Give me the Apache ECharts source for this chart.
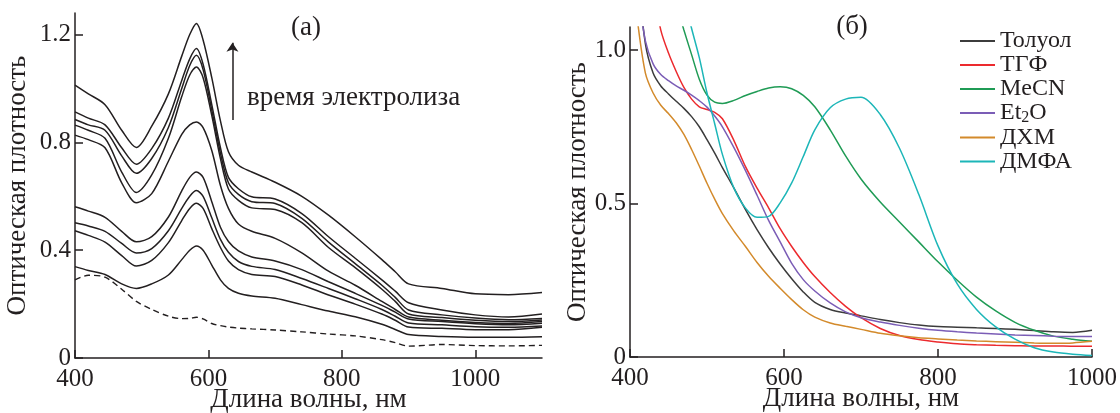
<!DOCTYPE html>
<html>
<head>
<meta charset="utf-8">
<script src="https://cdn.jsdelivr.net/npm/echarts@6.0.0/dist/echarts.min.js"></script>
<style>
html,body{margin:0;padding:0;background:#fff}
#chart{width:1120px;height:413px}
</style>
</head>
<body>
<div id="chart"></div>
<script>
// панель (а): длины волн, нм
const wlA=[400,420,445,470,492,515,540,560,572,582,592,605,618,630,645,665,700,740,780,820,860,880,900,950,1000,1050,1100]
// спектры во время электролиза, снизу вверх
const a1=[0.339,0.325,0.31,0.275,0.258,0.275,0.308,0.365,0.40,0.416,0.40,0.345,0.29,0.258,0.24,0.23,0.222,0.198,0.174,0.153,0.125,0.106,0.087,0.08,0.077,0.077,0.079]
const a2=[0.472,0.455,0.43,0.38,0.341,0.362,0.428,0.51,0.555,0.574,0.555,0.48,0.41,0.36,0.328,0.31,0.302,0.271,0.234,0.20,0.163,0.14,0.115,0.11,0.105,0.105,0.114]
const a3=[0.502,0.49,0.47,0.425,0.39,0.406,0.472,0.555,0.60,0.621,0.60,0.52,0.44,0.392,0.358,0.34,0.328,0.295,0.258,0.22,0.18,0.155,0.13,0.123,0.116,0.114,0.119]
const a4=[0.561,0.545,0.522,0.47,0.431,0.45,0.523,0.62,0.67,0.69,0.67,0.58,0.485,0.432,0.397,0.375,0.36,0.328,0.283,0.24,0.195,0.17,0.145,0.135,0.127,0.123,0.129]
const a5=[0.827,0.81,0.78,0.65,0.576,0.61,0.73,0.83,0.865,0.876,0.855,0.77,0.64,0.555,0.497,0.47,0.444,0.39,0.322,0.27,0.21,0.18,0.152,0.14,0.132,0.128,0.135]
const a6=[0.864,0.845,0.815,0.69,0.614,0.679,0.815,0.97,1.05,1.08,1.04,0.90,0.74,0.627,0.585,0.557,0.551,0.502,0.41,0.335,0.255,0.21,0.163,0.15,0.14,0.135,0.141]
const a7=[0.885,0.865,0.845,0.75,0.685,0.74,0.855,1.0,1.085,1.123,1.07,0.92,0.76,0.65,0.607,0.58,0.573,0.518,0.43,0.35,0.27,0.225,0.178,0.16,0.148,0.142,0.147]
const a8=[0.913,0.89,0.865,0.78,0.719,0.777,0.89,1.03,1.11,1.148,1.09,0.94,0.78,0.67,0.628,0.598,0.59,0.536,0.45,0.37,0.29,0.248,0.205,0.178,0.16,0.152,0.163]
const a9=[1.012,0.98,0.94,0.845,0.781,0.86,0.98,1.12,1.20,1.241,1.18,1.04,0.88,0.765,0.715,0.69,0.652,0.60,0.53,0.45,0.365,0.32,0.275,0.258,0.238,0.235,0.243]
// исходный спектр (штрих)
const a0=[0.29,0.307,0.30,0.255,0.21,0.18,0.155,0.146,0.147,0.151,0.145,0.128,0.12,0.115,0.111,0.108,0.104,0.097,0.089,0.082,0.068,0.057,0.044,0.05,0.046,0.045,0.047]

// панель (б)
const wlB=[400,410,420,430,440,450,460,470,480,490,500,510,520,535,550,565,580,595,610,625,640,660,680,700,725,750,775,800,825,850,875,900,925,950,975,1000]
const toluene=[null,1.25,1.02,0.925,0.883,0.857,0.833,0.81,0.783,0.75,0.708,0.664,0.617,0.55,0.48,0.415,0.356,0.303,0.255,0.212,0.178,0.155,0.143,0.134,0.122,0.112,0.104,0.099,0.097,0.095,0.093,0.09,0.086,0.082,0.08,0.087]
const thf=[null,null,null,1.2,1.065,0.99,0.93,0.878,0.84,0.815,0.806,0.797,0.776,0.705,0.62,0.55,0.486,0.418,0.36,0.308,0.262,0.21,0.165,0.128,0.093,0.07,0.057,0.049,0.043,0.04,0.038,0.037,0.036,0.036,0.035,0.035]
const mecn=[null,null,null,null,null,null,1.15,1.065,0.985,0.905,0.853,0.83,0.826,0.836,0.852,0.865,0.876,0.88,0.874,0.852,0.815,0.74,0.655,0.58,0.505,0.44,0.375,0.31,0.25,0.195,0.15,0.113,0.087,0.068,0.058,0.051]
const et2o=[null,1.2,1.03,0.955,0.92,0.9,0.883,0.869,0.853,0.835,0.814,0.785,0.75,0.682,0.607,0.527,0.445,0.375,0.305,0.252,0.215,0.176,0.147,0.128,0.114,0.103,0.094,0.087,0.082,0.078,0.075,0.072,0.07,0.068,0.067,0.067]
const dcm=[null,1.09,0.925,0.86,0.82,0.793,0.763,0.725,0.676,0.622,0.566,0.514,0.467,0.41,0.36,0.308,0.263,0.224,0.187,0.154,0.13,0.111,0.1,0.09,0.077,0.069,0.063,0.059,0.055,0.052,0.05,0.048,0.046,0.045,0.046,0.051]
const dmfa=[null,null,null,null,null,null,null,1.17,1.07,0.975,0.86,0.76,0.66,0.55,0.485,0.455,0.458,0.502,0.567,0.653,0.74,0.812,0.84,0.846,0.79,0.68,0.53,0.362,0.238,0.155,0.098,0.058,0.03,0.016,0.009,0.005]

const solventNames=['Толуол','ТГФ','MeCN','Et2O','ДХМ','ДМФА']
const solventColors=['#3c3c3c','#ec2a2e','#1f9b55','#7b5db6','#d38a2b','#1cb6b8']
const solventData=[toluene,thf,mecn,et2o,dcm,dmfa]

const ink='#231f20'
const serif="'Liberation Serif', 'DejaVu Serif', serif"

function pairs(xs,ys){return xs.map((x,i)=>[x,ys[i]])}

function axisX(idx,min,max,ticks){
    return {
        type:'value',gridIndex:idx,min:min,max:max,
        name:'Длина волны, нм',nameLocation:'middle',nameGap:28,nameMoveOverlap:false,
        nameTextStyle:{fontFamily:serif,fontSize:27,color:ink},
        axisLine:{lineStyle:{color:ink,width:1.5}},
        axisTick:{inside:true,length:8,lineStyle:{color:ink,width:1.5},customValues:ticks},
        axisLabel:{fontFamily:serif,fontSize:25,color:ink,margin:9,customValues:ticks,
            formatter:v=>String(v)},
        splitLine:{show:false}
    }
}
function axisY(idx,max,ticks,gap){
    return {
        type:'value',gridIndex:idx,min:0,max:max,
        name:'Оптическая плотность',nameLocation:'middle',nameRotate:90,nameGap:gap,nameMoveOverlap:false,
        nameTextStyle:{fontFamily:serif,fontSize:27,color:ink},
        axisLine:{show:true,lineStyle:{color:ink,width:1.5}},
        axisTick:{show:true,inside:true,length:8,lineStyle:{color:ink,width:1.5},customValues:ticks},
        axisLabel:{fontFamily:serif,fontSize:25,color:ink,margin:4,customValues:ticks,
            formatter:v=>v===0?'0':v.toFixed(1)},
        splitLine:{show:false}
    }
}

let series=[]
const aCurves=[a1,a2,a3,a4,a5,a6,a7,a8,a9]
aCurves.forEach((c,i)=>{
    series.push({
        name:'a'+(i+1),type:'line',xAxisIndex:0,yAxisIndex:0,
        data:pairs(wlA,c),smooth:0.3,symbol:'none',
        lineStyle:{color:ink,width:1.5}
    })
})
series.push({
    name:'a0',type:'line',xAxisIndex:0,yAxisIndex:0,
    data:pairs(wlA,a0),smooth:0.3,symbol:'none',
    lineStyle:{color:ink,width:1.4,type:[6,4]},
    // стрелка "время электролиза"
    markLine:{
        silent:true,symbol:['none','arrow'],symbolSize:9,
        label:{show:false},
        lineStyle:{color:ink,width:1.5,type:'solid'},
        data:[[{coord:[636,0.883]},{coord:[636,1.17]}]]
    }
})
solventData.forEach((d,i)=>{
    series.push({
        name:solventNames[i],type:'line',xAxisIndex:1,yAxisIndex:1,
        data:pairs(wlB,d),smooth:0.3,symbol:'none',
        lineStyle:{color:solventColors[i],width:1.5},
        itemStyle:{color:solventColors[i]}
    })
})

const chart=echarts.init(document.getElementById('chart'))
chart.setOption({
    backgroundColor:'#fff',
    animation:false,
    grid:[
        {left:75,top:13,width:467,height:345,outerBoundsMode:'none',containLabel:false},
        {left:630,top:27,width:462,height:330,outerBoundsMode:'none',containLabel:false}
    ],
    xAxis:[axisX(0,400,1100,[400,600,800,1000]),axisX(1,400,1000,[400,600,800,1000])],
    yAxis:[axisY(0,1.28,[0,0.4,0.8,1.2],44),axisY(1,1.075,[0,0.5,1.0],39)],
    legend:{
        data:solventNames,orient:'vertical',left:955,top:24,
        icon:'rect',itemWidth:35,itemHeight:2,itemGap:0,
        textStyle:{fontFamily:serif,fontSize:24,color:ink,lineHeight:22.7,
            rich:{sub:{fontFamily:serif,fontSize:16,color:ink,padding:[9,0,0,0]}}},
        formatter:n=>n==='Et2O'?'Et{sub|2}O':n
    },
    graphic:[
        {type:'text',x:306,y:28,style:{text:'(a)',font:'27px "Liberation Serif"',fill:ink,align:'center',verticalAlign:'middle'}},
        {type:'text',x:852,y:27,style:{text:'(б)',font:'27px "Liberation Serif"',fill:ink,align:'center',verticalAlign:'middle'}},
        {type:'text',x:247,y:98,style:{text:'время электролиза',font:'27px "Liberation Serif"',fill:ink,align:'left',verticalAlign:'middle'}}
    ],
    series:series
})
</script>
</body>
</html>
